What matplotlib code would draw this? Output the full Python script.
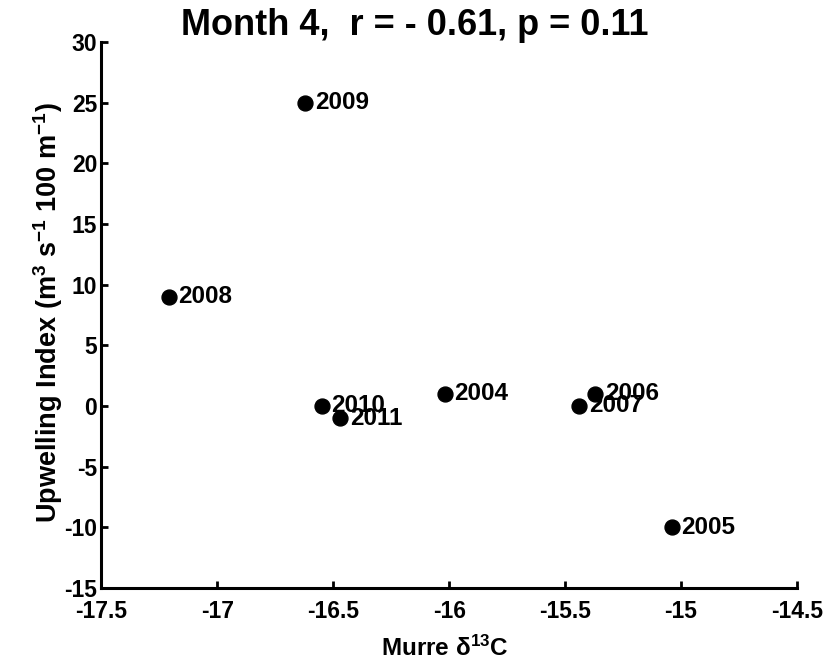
import numpy as np
import matplotlib
matplotlib.use('Agg')
import matplotlib.pyplot as plt

# data
years = ['2004', '2005', '2006', '2007', '2008', '2009', '2010', '2011']
d13c = [-16.02, -15.04, -15.37, -15.44, -17.21, -16.62, -16.55, -16.47]
upwelling = [1, -10, 1, 0, 9, 25, 0, -1]
xticks = [-17.5, -17, -16.5, -16, -15.5, -15, -14.5]
yticks = [-15, -10, -5, 0, 5, 10, 15, 20, 25, 30]

plt.rcParams['font.family'] = 'Liberation Sans'
plt.rcParams['font.weight'] = 'bold'
plt.rcParams['mathtext.fontset'] = 'custom'
plt.rcParams['mathtext.rm'] = 'Liberation Sans:bold'
plt.rcParams['mathtext.bf'] = 'Liberation Sans:bold'
plt.rcParams['mathtext.it'] = 'Liberation Sans:bold'
plt.rcParams['mathtext.default'] = 'bf'

fig = plt.figure(figsize=(8.25, 6.64), dpi=100)
ax = fig.add_axes([0.123, 0.1145, 0.843, 0.8222])

ax.scatter(d13c, upwelling, s=115, color='black', zorder=3)
for x, y, lab in zip(d13c, upwelling, years):
    ax.annotate(lab, (x, y), xytext=(7, 0), textcoords='offset points',
                va='center', ha='left', fontsize=17.5, fontweight='bold')

ax.set_xlim(-17.5, -14.5)
ax.set_ylim(-15, 30)
ax.set_xticks(xticks)
ax.set_xticklabels([f'{t:g}' for t in xticks])
ax.set_yticks(yticks)
ax.set_yticklabels([f'{t:g}' for t in yticks])

for side in ['top', 'right']:
    ax.spines[side].set_visible(False)
for side in ['left', 'bottom']:
    ax.spines[side].set_linewidth(2.2)
ax.tick_params(direction='in', length=5, width=2, labelsize=16.5)
ax.tick_params(axis='x', pad=9)
ax.tick_params(axis='y', pad=3)

# axis labels and title placed like the reference
fig.text(445 / 825, 1 - 648 / 664, 'Murre δ$^{13}$C', ha='center', va='center',
         fontsize=17.5, fontweight='bold')
fig.text(48 / 825, 1 - 313 / 664, 'Upwelling Index (m$^3$ s$^{-1}$ 100 m$^{-1}$)',
         rotation=90, ha='center', va='center', fontsize=19.5, fontweight='bold')
fig.text(0.503, 0.961, 'Month 4,  r = - 0.61, p = 0.11', ha='center', va='center',
         fontsize=26, fontweight='bold')

fig.savefig('out.png', dpi=100)
